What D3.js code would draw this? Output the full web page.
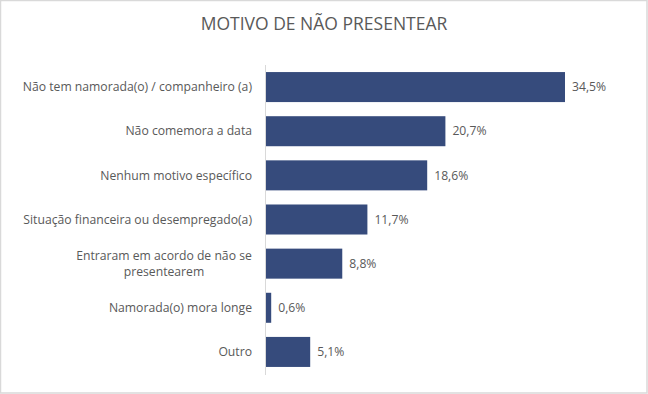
<!DOCTYPE html>
<html><head><meta charset="utf-8">
<script src="https://cdn.jsdelivr.net/npm/d3@7"></script>
<style>body{margin:0;background:#fff}svg{display:block}text{font-family:"Open Sans",sans-serif}</style>
</head><body><svg id="c" width="648" height="394"></svg>
<script>
const title = "MOTIVO DE NÃO PRESENTEAR";
const categories = [
  ["Não tem namorada(o) / companheiro (a)"],
  ["Não comemora a data"],
  ["Nenhum motivo específico"],
  ["Situação financeira ou desempregado(a)"],
  ["Entraram em acordo de não se", "presentearem"],
  ["Namorada(o) mora longe"],
  ["Outro"]
];
const values = [34.5, 20.7, 18.6, 11.7, 8.8, 0.6, 5.1];
const valueLabels = ["34,5%", "20,7%", "18,6%", "11,7%", "8,8%", "0,6%", "5,1%"];

const svg = d3.select("#c");
const W = 648, H = 394;
svg.append("rect").attr("x", 0.5).attr("y", 0.5).attr("width", W - 1.5).attr("height", H - 1.5)
  .attr("fill", "#fff").attr("stroke", "#d9d9d9").attr("stroke-width", 1.5);

svg.append("text").attr("x", 324).attr("y", 30).attr("text-anchor", "middle")
  .attr("font-size", 17.5).attr("fill", "#595959").text(title);

const x0 = 266;
const x = d3.scaleLinear().domain([0, 34.5]).range([x0, 565]);
const y = d3.scaleBand().domain(d3.range(values.length)).range([65, 374]).paddingInner(0.32).paddingOuter(0.16);

svg.append("line").attr("x1", x0 - 0.5).attr("x2", x0 - 0.5).attr("y1", 65).attr("y2", 375)
  .attr("stroke", "#d9d9d9").attr("stroke-width", 1);

svg.selectAll("rect.bar").data(values).join("rect").attr("class", "bar")
  .attr("x", x(0)).attr("y", (d, i) => y(i)).attr("width", d => x(d) - x(0)).attr("height", y.bandwidth())
  .attr("fill", "#364b7c");

svg.selectAll("text.val").data(values).join("text").attr("class", "val")
  .attr("x", d => x(d) + 7).attr("y", (d, i) => y(i) + y.bandwidth() / 2).attr("dy", "0.35em")
  .attr("font-size", 12.2).attr("fill", "#595959").text((d, i) => valueLabels[i]);

categories.forEach((lines, i) => {
  const cy = y(i) + y.bandwidth() / 2;
  const t = svg.append("text").attr("text-anchor", lines.length > 1 ? "middle" : "end")
    .attr("font-size", 12.2).attr("fill", "#595959");
  if (lines.length > 1) {
    lines.forEach((l, j) => {
      t.append("tspan").attr("x", 252 - 88).attr("y", cy + (j - (lines.length - 1) / 2) * 16).attr("dy", "0.35em").text(l);
    });
  } else {
    t.attr("x", 252).attr("y", cy).attr("dy", "0.35em").text(lines[0]);
  }
});
</script></body></html>
